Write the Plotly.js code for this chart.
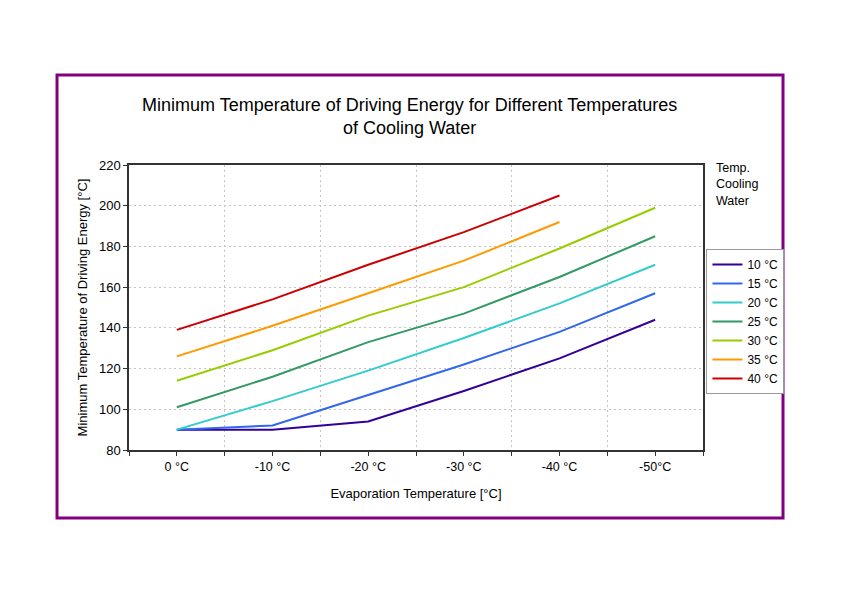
<!DOCTYPE html>
<html>
<head>
<meta charset="utf-8">
<script src="https://cdn.plot.ly/plotly-3.0.1.min.js"></script>
<style>body{margin:0;padding:0;background:#fff}#chart{width:842px;height:595px}</style>
</head>
<body>
<div id="chart"></div>
<script>
const categories = ["0 °C", "-10 °C", "-20 °C", "-30 °C", "-40 °C", "-50°C"];
const seriesNames = ["10 °C", "15 °C", "20 °C", "25 °C", "30 °C", "35 °C", "40 °C"];
const s10 = [90, 90, 94, 109, 125, 144];
const s15 = [90, 92, 107, 122, 138, 157];
const s20 = [90, 104, 119, 135, 152, 171];
const s25 = [101, 116, 133, 147, 165, 185];
const s30 = [114, 129, 146, 160, 179, 199];
const s35 = [126, 141, 157, 173, 192];
const s40 = [139, 154, 171, 187, 205];
const colors = ["#330099", "#3366ee", "#33cccc", "#339966", "#99cc00", "#ff9900", "#cc0000"];

const allSeries = [s10, s15, s20, s25, s30, s35, s40];
const idx = categories.map((c, i) => i);
const traces = allSeries.map((s, k) => ({
  type: "scatter", mode: "lines",
  x: idx.slice(0, s.length), y: s,
  name: seriesNames[k],
  line: {color: colors[k], width: 2}
}));

const boundaries = [];
for (let i = 0; i <= categories.length; i++) boundaries.push(i - 0.5);

const font = "Liberation Sans, Arial, sans-serif";
const layout = {
  width: 842, height: 595,
  margin: {l: 129, r: 139, t: 165, b: 145},
  paper_bgcolor: "#fff", plot_bgcolor: "#fff",
  font: {family: font, size: 12.5, color: "#000"},
  title: {
    text: "Minimum Temperature of Driving Energy for Different Temperatures<br>of Cooling Water",
    font: {family: font, size: 18, color: "#000"},
    xref: "paper", x: 0.489, xanchor: "center",
    yref: "container", y: 0.814, yanchor: "middle"
  },
  xaxis: {
    range: [-0.5, 5.5],
    tickvals: idx, ticktext: categories,
    ticks: "outside", ticklen: 4, tickcolor: "#333",
    showgrid: false, zeroline: false,
    showline: true, linecolor: "#333", linewidth: 1.5, mirror: true,
    tickfont: {size: 12.5},
    minor: {tickvals: boundaries, ticks: "outside", ticklen: 4, tickcolor: "#333",
            showgrid: true, gridcolor: "#c4c4c4", griddash: "2px,3px", gridwidth: 1},
    title: {text: "Evaporation Temperature [°C]", font: {size: 13}, standoff: 16}
  },
  yaxis: {
    range: [80, 220], dtick: 20,
    ticks: "outside", ticklen: 4, tickcolor: "#333",
    showgrid: true, gridcolor: "#c4c4c4", griddash: "2px,3px", gridwidth: 1,
    zeroline: false,
    showline: true, linecolor: "#333", linewidth: 1.5, mirror: true,
    tickfont: {size: 13},
    title: {text: "Minimum Temperature of Driving Energy [°C]", font: {size: 13}, standoff: 8}
  },
  showlegend: true,
  legend: {
    x: 1.006, xanchor: "left", y: 0.705, yanchor: "top",
    bordercolor: "#999", borderwidth: 1, bgcolor: "#fff",
    font: {size: 12}, tracegroupgap: 0, itemwidth: 30
  },
  annotations: [{
    text: "Temp.<br>Cooling<br>Water", xref: "paper", yref: "paper",
    x: 1.02, y: 1.022, xanchor: "left", yanchor: "top", align: "left",
    showarrow: false, font: {size: 12.5}
  }],
  shapes: [{
    type: "rect", xref: "paper", yref: "paper",
    x0: -0.1254, x1: 1.1394, y0: -0.2386, y1: 1.3158,
    line: {color: "#800080", width: 3}, layer: "below"
  }]
};

Plotly.newPlot("chart", traces, layout, {displayModeBar: false});
</script>
</body>
</html>
